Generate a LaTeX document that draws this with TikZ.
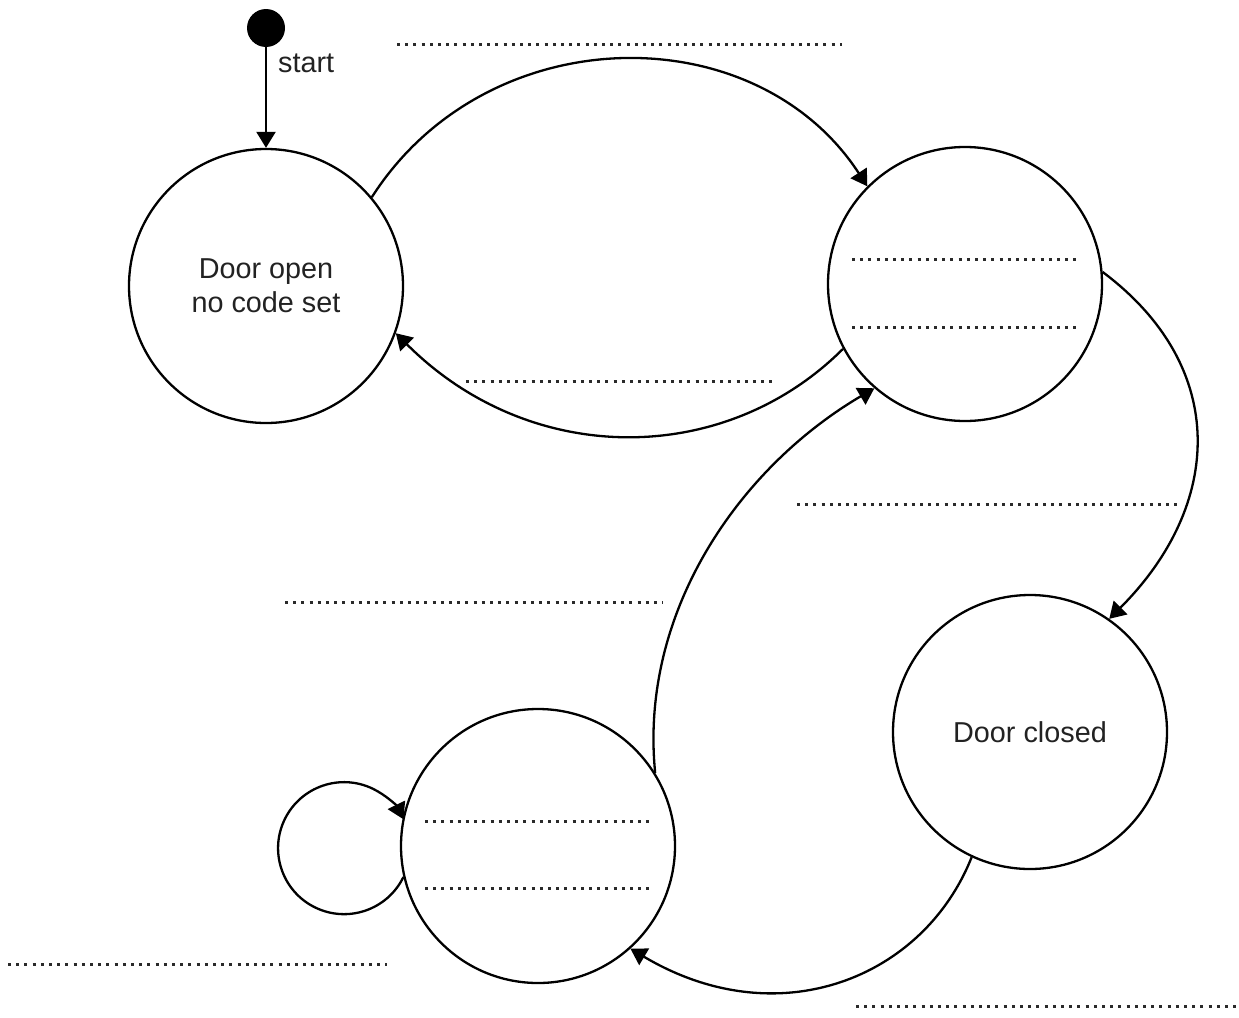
\documentclass[tikz,border=0pt]{standalone}
\usepackage{fontspec}
\setmainfont{Liberation Sans}
\usetikzlibrary{arrows.meta,calc}
\definecolor{txt}{HTML}{222222}
\definecolor{dotc}{HTML}{2A2A2A}
\begin{document}
\begin{tikzpicture}[x=1pt,y=1pt,
  state/.style={circle,draw,line width=2.3pt,minimum size=274pt,inner sep=0pt,
    font=\fontsize{28.8}{34}\selectfont,text=txt,align=center},
  conn/.style={line width=2.3pt,-{Triangle[length=16pt,width=19pt]}},
  blank/.style={dotc,line width=3pt,dash pattern=on 3pt off 5.2pt},
  lbl/.style={font=\fontsize{28.8}{34}\selectfont,text=txt,inner sep=0pt}]
\useasboundingbox (0,0) rectangle (1239,-1017);

% states
\node[state] (A) at (266,-286) {Door open\\no code set};
\node[state] (B) at (965,-284) {};
\node[state] (C) at (1030,-732) {Door closed};
\node[state] (D) at (538,-846) {};
\node[circle,fill=black,minimum size=38pt,inner sep=0pt] (S) at (266,-28) {};
\node[lbl,anchor=west] (st) at (278,-63) {start};

% connectors
\draw[conn] (S) -- (A);
\draw[conn] (A.40) .. controls ($(A.40)+(115,180)$) and ($(B.135)+(-112,172)$) .. (B.135);
\draw[conn] (B.208) .. controls ($(B.208)+(-118,-118)$) and ($(A.340)+(135,-135)$) .. (A.340);
\draw[conn] (B.5) .. controls ($(B.5)+(128,-96)$) and ($(C.55)+(113,113)$) .. (C.55);
\draw[conn] (C.245) .. controls ($(C.245)+(-48,-121)$) and ($(D.312)+(148,-88)$) .. (D.312);
\draw[conn] (D.32) .. controls ($(D.32)+(-16,160)$) and ($(B.229)+(-136,-80)$) .. (B.229);
\draw[conn] (D.193) arc[start angle=-26, end angle=-334, radius=66];

% answer lines
\draw[blank] (397,-44) -- (842,-44);
\draw[blank] (466,-381) -- (772,-381);
\draw[blank] (852,-259) -- (1077,-259);
\draw[blank] (852,-327) -- (1077,-327);
\draw[blank] (797,-504) -- (1177,-504);
\draw[blank] (285,-602) -- (663,-602);
\draw[blank] (425,-821) -- (650,-821);
\draw[blank] (425,-888) -- (650,-888);
\draw[blank] (8,-964) -- (387,-964);
\draw[blank] (856,-1006) -- (1236,-1006);
\end{tikzpicture}
\end{document}
